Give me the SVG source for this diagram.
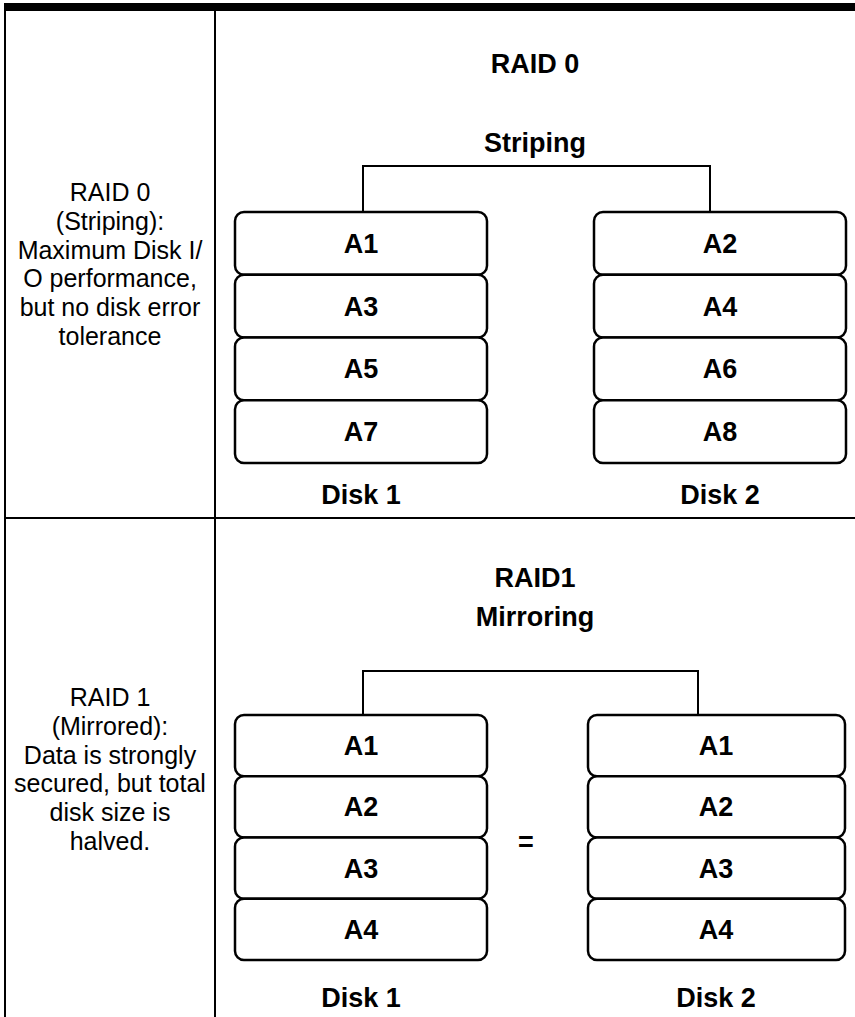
<svg xmlns="http://www.w3.org/2000/svg" width="855" height="1017" viewBox="0 0 855 1017">
<style>
.box{fill:#fff;stroke:#000;stroke-width:2.5}
.ln{fill:none;stroke:#000;stroke-width:2}
.t{font-family:"Liberation Sans",Arial,sans-serif;font-weight:bold;font-size:27px;text-anchor:middle;fill:#000}
.h{font-family:"Liberation Sans",Arial,sans-serif;font-weight:bold;font-size:27px;text-anchor:middle;fill:#000}
.d{font-family:"Liberation Sans",Arial,sans-serif;font-size:25px;text-anchor:middle;fill:#000}
</style>
<rect width="855" height="1017" fill="#fff"/>
<g id="frame">
<rect x="4" y="3" width="851" height="8" fill="#000"/>
<line class="ln" x1="5" y1="3" x2="5" y2="1017"/>
<line class="ln" x1="215" y1="11" x2="215" y2="1017"/>
<line class="ln" x1="4" y1="518" x2="855" y2="518"/>
</g>
<g id="desc0">
<text class="d" x="110" y="201">RAID 0</text>
<text class="d" x="110" y="230">(Striping):</text>
<text class="d" x="110" y="259">Maximum Disk I/</text>
<text class="d" x="110" y="287">O performance,</text>
<text class="d" x="110" y="316">but no disk error</text>
<text class="d" x="110" y="345">tolerance</text>
</g>
<g id="desc1">
<text class="d" x="110" y="706">RAID 1</text>
<text class="d" x="110" y="735">(Mirrored):</text>
<text class="d" x="110" y="764">Data is strongly</text>
<text class="d" x="110" y="792">secured, but total</text>
<text class="d" x="110" y="821">disk size is</text>
<text class="d" x="110" y="850">halved.</text>
</g>
<g id="connectors">
<polyline class="ln" points="363,212 363,166 710,166 710,212"/>
<polyline class="ln" points="363,715 363,671 698,671 698,715"/>
</g>
<g id="raid0-title">
<text class="h" x="535" y="73">RAID 0</text>
<text class="h" x="535" y="152">Striping</text>
</g>
<g id="raid0-disk1">
<rect class="box" x="235" y="212" width="252" height="62.75" rx="9"/>
<text class="t" x="361" y="253">A1</text>
<rect class="box" x="235" y="274.75" width="252" height="62.75" rx="9"/>
<text class="t" x="361" y="316">A3</text>
<rect class="box" x="235" y="337.5" width="252" height="62.75" rx="9"/>
<text class="t" x="361" y="378">A5</text>
<rect class="box" x="235" y="400.25" width="252" height="62.75" rx="9"/>
<text class="t" x="361" y="441">A7</text>
<text class="t" x="361" y="504">Disk 1</text>
</g>
<g id="raid0-disk2">
<rect class="box" x="594" y="212" width="252" height="62.75" rx="9"/>
<text class="t" x="720" y="253">A2</text>
<rect class="box" x="594" y="274.75" width="252" height="62.75" rx="9"/>
<text class="t" x="720" y="316">A4</text>
<rect class="box" x="594" y="337.5" width="252" height="62.75" rx="9"/>
<text class="t" x="720" y="378">A6</text>
<rect class="box" x="594" y="400.25" width="252" height="62.75" rx="9"/>
<text class="t" x="720" y="441">A8</text>
<text class="t" x="720" y="504">Disk 2</text>
</g>
<g id="raid1-title">
<text class="h" x="535" y="587">RAID1</text>
<text class="h" x="535" y="626">Mirroring</text>
</g>
<g id="raid1-disk1">
<rect class="box" x="235" y="715" width="252" height="61.25" rx="9"/>
<text class="t" x="361" y="755">A1</text>
<rect class="box" x="235" y="776.25" width="252" height="61.25" rx="9"/>
<text class="t" x="361" y="816">A2</text>
<rect class="box" x="235" y="837.5" width="252" height="61.25" rx="9"/>
<text class="t" x="361" y="878">A3</text>
<rect class="box" x="235" y="898.75" width="252" height="61.25" rx="9"/>
<text class="t" x="361" y="939">A4</text>
<text class="t" x="361" y="1007">Disk 1</text>
</g>
<g id="equals">
<text class="t" x="526" y="851">=</text>
</g>
<g id="raid1-disk2">
<rect class="box" x="588" y="715" width="257" height="61.25" rx="9"/>
<text class="t" x="716" y="755">A1</text>
<rect class="box" x="588" y="776.25" width="257" height="61.25" rx="9"/>
<text class="t" x="716" y="816">A2</text>
<rect class="box" x="588" y="837.5" width="257" height="61.25" rx="9"/>
<text class="t" x="716" y="878">A3</text>
<rect class="box" x="588" y="898.75" width="257" height="61.25" rx="9"/>
<text class="t" x="716" y="939">A4</text>
<text class="t" x="716" y="1007">Disk 2</text>
</g>
</svg>
